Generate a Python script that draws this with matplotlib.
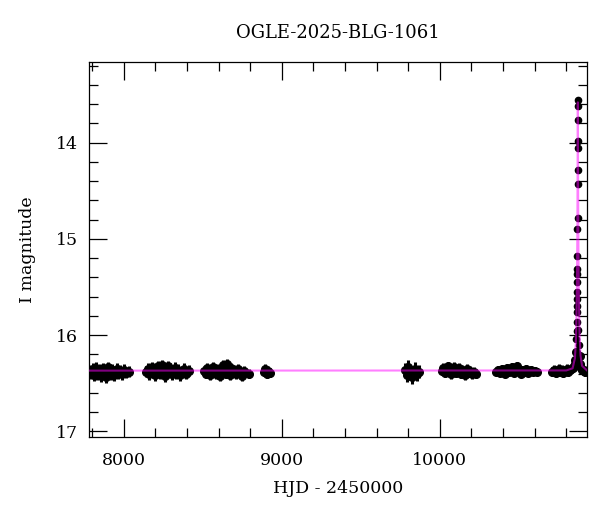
import matplotlib
matplotlib.use("Agg")
import matplotlib.pyplot as plt
from matplotlib.ticker import MultipleLocator

plt.rcParams["font.family"] = ["DejaVu Serif"]

# temporadas de observacion (HJD - 2450000, magnitud I)
t1 = [7788, 7795, 7803, 7810, 7818, 7826, 7833, 7841, 7849, 7856, 7864, 7872, 7880, 7887,
      7895, 7903, 7911, 7919, 7927, 7936, 7945, 7955, 7966, 7978, 7990, 8003, 8017, 8032]
m1 = [16.37, 16.40, 16.35, 16.42, 16.38, 16.34, 16.41, 16.39, 16.36, 16.43, 16.38, 16.35, 16.40, 16.44,
      16.37, 16.33, 16.39, 16.41, 16.36, 16.42, 16.38, 16.35, 16.40, 16.37, 16.41, 16.36, 16.39, 16.38]

t2 = [8142, 8151, 8160, 8169, 8178, 8187, 8196, 8205, 8214, 8223, 8232, 8241, 8250, 8259,
      8268, 8277, 8286, 8295, 8304, 8313, 8322, 8332, 8343, 8355, 8367, 8381, 8396, 8414]
m2 = [16.38, 16.35, 16.41, 16.37, 16.33, 16.39, 16.42, 16.36, 16.32, 16.38, 16.40, 16.31, 16.36, 16.43,
      16.37, 16.32, 16.39, 16.35, 16.41, 16.37, 16.34, 16.40, 16.36, 16.42, 16.38, 16.35, 16.40, 16.37]

t3 = [8508, 8518, 8527, 8536, 8545, 8554, 8563, 8572, 8581, 8590, 8599, 8608, 8617, 8626,
      8635, 8644, 8653, 8662, 8671, 8680, 8690, 8700, 8711, 8722, 8734, 8747, 8762, 8790]
m3 = [16.37, 16.40, 16.34, 16.38, 16.42, 16.36, 16.33, 16.39, 16.41, 16.35, 16.38, 16.43, 16.36, 16.31,
      16.37, 16.40, 16.30, 16.38, 16.42, 16.34, 16.39, 16.36, 16.41, 16.35, 16.39, 16.43, 16.37, 16.40]

t4 = [8888, 8897, 8906, 8915, 8924]
m4 = [16.38, 16.35, 16.40, 16.37, 16.39]

t5 = [9782, 9790, 9800, 9812, 9825, 9840, 9855, 9868]
m5 = [16.36, 16.42, 16.33, 16.40, 16.44, 16.35, 16.41, 16.38]

t6 = [10012, 10022, 10032, 10042, 10052, 10062, 10072, 10082, 10092, 10102, 10112,
      10122, 10132, 10142, 10152, 10162, 10172, 10182, 10193, 10205, 10218, 10232]
m6 = [16.37, 16.34, 16.39, 16.36, 16.32, 16.38, 16.41, 16.35, 16.33, 16.39, 16.37,
      16.34, 16.40, 16.36, 16.38, 16.42, 16.35, 16.39, 16.37, 16.41, 16.38, 16.40]

t7 = [10358, 10369, 10380, 10391, 10402, 10413, 10424, 10435, 10446, 10457, 10468, 10479,
      10490, 10501, 10512, 10523, 10534, 10545, 10556, 10567, 10578, 10589, 10600, 10612]
m7 = [16.38, 16.36, 16.39, 16.35, 16.37, 16.40, 16.34, 16.38, 16.36, 16.33, 16.39, 16.35,
      16.32, 16.37, 16.40, 16.36, 16.38, 16.35, 16.39, 16.37, 16.36, 16.38, 16.37, 16.38]

t8 = [10712, 10722, 10732, 10742, 10752, 10762, 10772, 10782, 10792, 10802, 10812, 10822,
      10832, 10840, 10847, 10853, 10858, 10862, 10885, 10890, 10896, 10902, 10910, 10918, 10925]
m8 = [16.38, 16.36, 16.39, 16.37, 16.35, 16.38, 16.36, 16.39, 16.37, 16.35, 16.38, 16.36,
      16.35, 16.34, 16.32, 16.30, 16.26, 16.18, 16.22, 16.30, 16.34, 16.36, 16.37, 16.38, 16.37]

# puntos del pico del evento
t_pico = [10864.0, 10865.0, 10866.0, 10867.0, 10867.6, 10868.2, 10868.8, 10869.2, 10869.6,
          10870.0, 10870.4, 10871.0, 10871.4, 10872.0, 10872.3, 10872.6, 10872.9, 10873.0,
          10873.2, 10873.3, 10876.0, 10878.0]
m_pico = [16.04, 15.96, 15.86, 15.76, 15.70, 15.62, 15.55, 15.45, 15.36,
          15.31, 15.18, 14.90, 14.78, 14.43, 14.28, 14.06, 13.98, 13.76,
          13.62, 13.56, 15.95, 16.10]

err_temporadas = [0.055, 0.055, 0.05, 0.05, 0.07, 0.045, 0.04, 0.045]

# modelo ajustado
t_modelo = [7780, 10800, 10840, 10855, 10862, 10866, 10868, 10870, 10871, 10872, 10873,
            10873.5, 10874, 10875, 10876, 10878, 10880, 10884, 10890, 10900, 10930]
m_modelo = [16.37, 16.368, 16.346, 16.24, 16.02, 15.70, 15.42, 14.97, 14.63, 14.16, 13.61,
            13.58, 13.82, 14.39, 14.79, 15.32, 15.63, 15.98, 16.21, 16.32, 16.366]

fig = plt.figure(figsize=(6, 5.12), dpi=100)
ax = fig.add_axes([0.148, 0.1465, 0.83, 0.7325])

temporadas = [(t1, m1), (t2, m2), (t3, m3), (t4, m4), (t5, m5), (t6, m6), (t7, m7), (t8, m8)]
for (t, m), e in zip(temporadas, err_temporadas):
    ax.errorbar(t, m, yerr=e, fmt="o", color="black", ms=5.5, elinewidth=2.2,
                capsize=0, zorder=2)

ax.errorbar(t_pico, m_pico, yerr=0.02, fmt="o", color="black", ms=4.5, elinewidth=1.5,
            capsize=0, zorder=2)

ax.plot(t_modelo, m_modelo, color="magenta", lw=1.5, alpha=0.5, zorder=3)

ax.set_xlim(7779, 10930)
ax.set_ylim(17.06, 13.16)

ax.xaxis.set_major_locator(MultipleLocator(1000))
ax.xaxis.set_minor_locator(MultipleLocator(200))
ax.yaxis.set_major_locator(MultipleLocator(1))
ax.yaxis.set_minor_locator(MultipleLocator(0.2))
ax.tick_params(which="both", direction="in", top=True, right=True, width=0.9, labelsize=12.5)
ax.tick_params(which="major", length=13)
ax.tick_params(which="minor", length=6.5)
ax.tick_params(axis="x", pad=11)
ax.tick_params(axis="y", pad=8)
for s in ax.spines.values():
    s.set_linewidth(0.9)

ax.set_xlabel("HJD - 2450000", fontsize=12.5, labelpad=8)
ax.set_ylabel("I magnitude", fontsize=12.5, labelpad=14)
ax.set_title("OGLE-2025-BLG-1061", fontsize=13, pad=17)

plt.savefig("out.png", dpi=100)
